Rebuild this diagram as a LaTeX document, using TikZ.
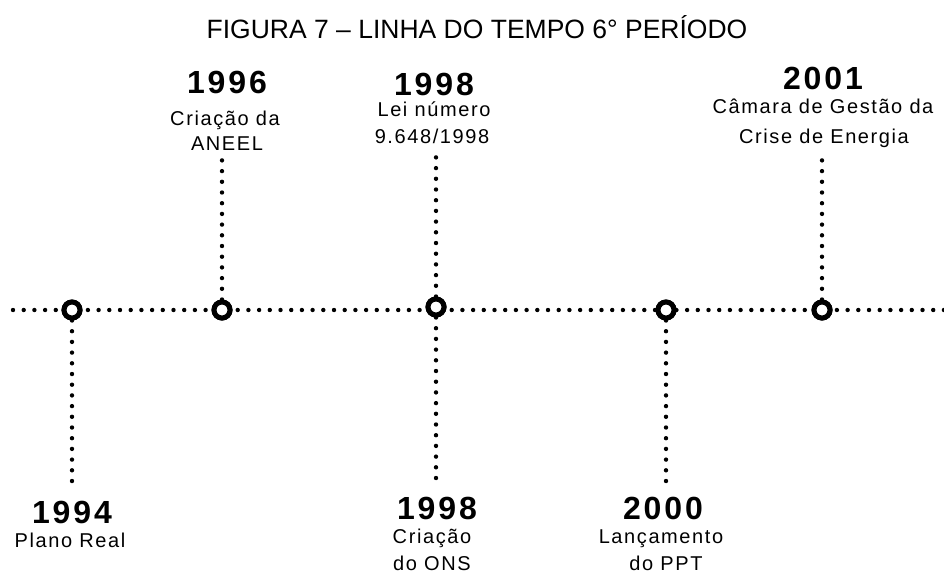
\documentclass[tikz,border=0pt]{standalone}
\usepackage{fontspec}
\setmainfont{Liberation Sans}
\newfontfamily\labfont[LetterSpace=8]{Liberation Sans}
\newfontfamily\yearfont[LetterSpace=9]{Liberation Sans}
\begin{document}
\begin{tikzpicture}[x=1pt,y=-1pt,
  dotline/.style={line width=4.4pt,line cap=round,dash pattern=on 0pt off 10.7pt},
  event/.style={circle,draw,line width=5pt,minimum size=16pt,inner sep=0pt,fill=white},
  yr/.style={anchor=base,inner sep=0pt,font=\yearfont\bfseries\fontsize{32}{32}\selectfont},
  lab/.style={anchor=base,inner sep=0pt,font=\labfont\fontsize{20}{20}\selectfont},
  ttl/.style={anchor=base,inner sep=0pt,font=\fontsize{26.5}{26.5}\selectfont}]
\useasboundingbox (0,0) rectangle (944,576);
% timeline
\coordinate (L) at (13,310);
\coordinate (R) at (944,310);
\draw[dotline] (L) -- (R);
% events
\node[event] (e94) at (72,310) {};
\node[event] (e96) at (222,310) {};
\node[event] (e98) at (436,307) {};
\node[event] (e00) at (666,310) {};
\node[event] (e01) at (822,310) {};
% stems
\coordinate (s94) at (72,485);
\coordinate (s96) at (222,160);
\coordinate (s98a) at (436,156);
\coordinate (s98b) at (436,485);
\coordinate (s00) at (666,487);
\coordinate (s01) at (822,158);
\draw[dotline] (e94) -- (s94);
\draw[dotline] (e96) -- (s96);
\draw[dotline] (e98) -- (s98a);
\draw[dotline] (e98) -- (s98b);
\draw[dotline] (e00) -- (s00);
\draw[dotline] (e01) -- (s01);
\node[event] at (e94) {};
\node[event] at (e96) {};
\node[event] at (e98) {};
\node[event] at (e00) {};
\node[event] at (e01) {};
% title
\node[ttl] (title) at (477,38) {FIGURA 7 -- LINHA DO TEMPO 6° PERÍODO};
% labels
\node[yr] (y94) at (72,523) {1994};
\node[lab] (t94) at (70,547) {Plano Real};
\node[yr] (y96) at (227,93) {1996};
\node[lab] (t96a) at (225,125) {Criação da};
\node[lab] (t96b) at (227,150) {ANEEL};
\node[yr] (y98a) at (434,95) {1998};
\node[lab] (t98a1) at (434,116) {Lei número};
\node[lab] (t98a2) at (432,143) {9.648/1998};
\node[yr] (y98b) at (437,519) {1998};
\node[lab] (t98b1) at (432,543) {Criação};
\node[lab] (t98b2) at (432,570) {do ONS};
\node[yr] (y00) at (663,519) {2000};
\node[lab] (t00a) at (661,543) {Lançamento};
\node[lab] (t00b) at (666,570) {do PPT};
\node[yr] (y01) at (823,89) {2001};
\node[lab] (t01a) at (823,113) {Câmara de Gestão da};
\node[lab] (t01b) at (824,143) {Crise de Energia};
\end{tikzpicture}
\end{document}
